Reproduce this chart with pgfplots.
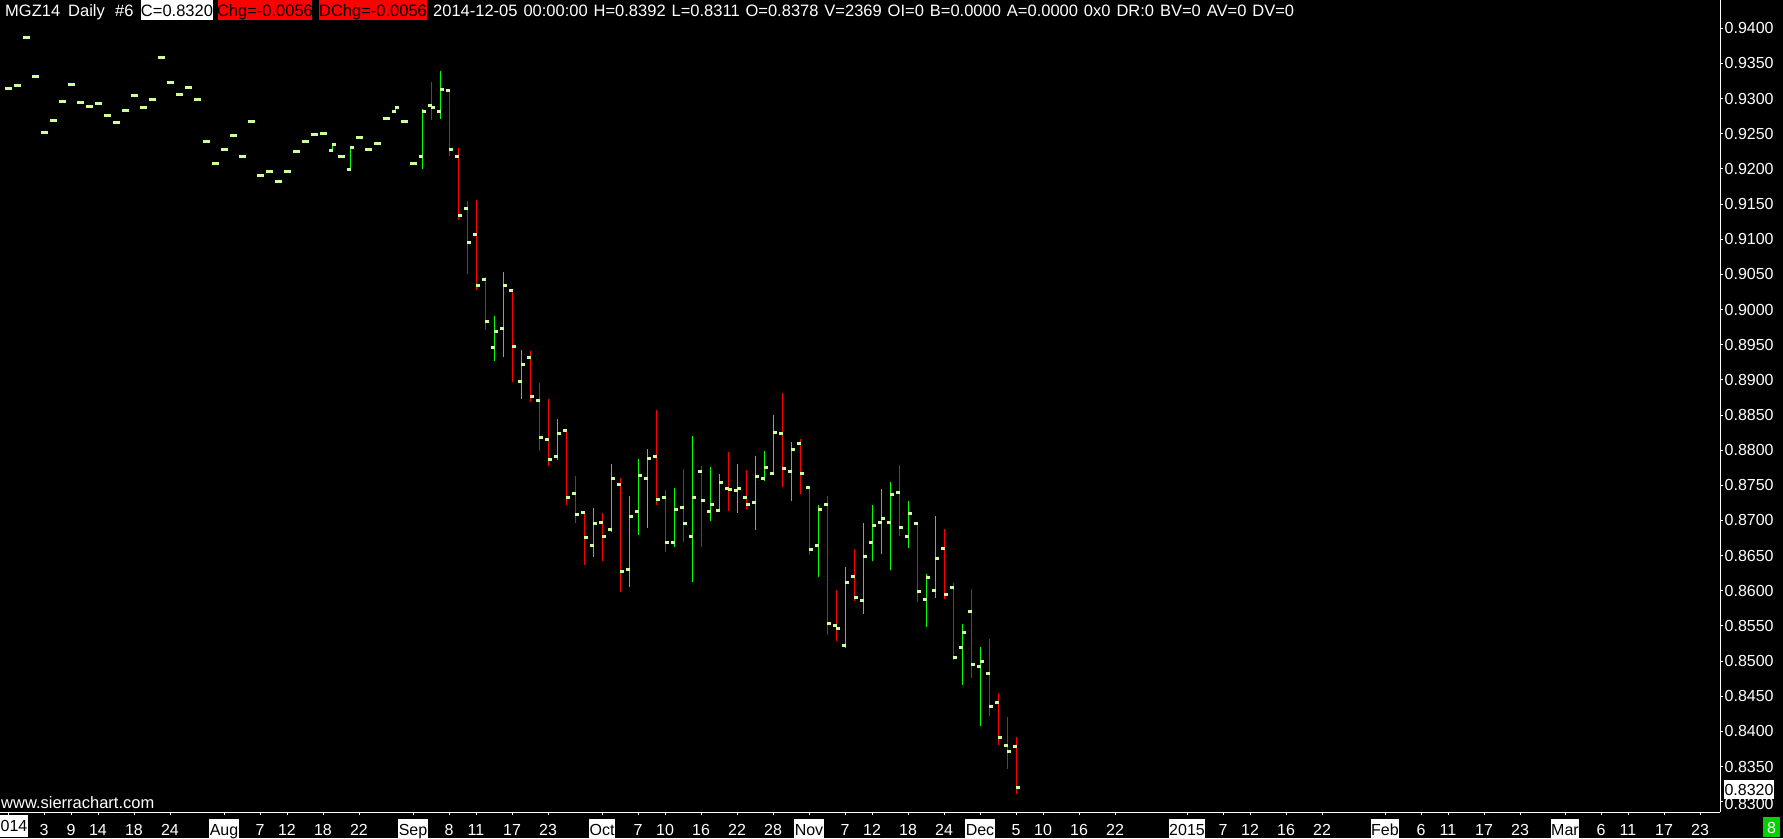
\documentclass[border=0pt]{standalone}
\usepackage{fontspec}
\setmainfont{Liberation Sans}
\usepackage{pgfplots}
\usepackage{pgfplotstable}
\pgfplotsset{compat=1.18}
\definecolor{upg}{RGB}{0,255,0}
\definecolor{dnr}{RGB}{255,0,0}
\definecolor{tickc}{RGB}{204,255,153}
\definecolor{boxg}{RGB}{0,210,0}
\definecolor{hdrred}{RGB}{255,0,0}

\pgfdeclareplotmark{otick}{\pgfpathrectangle{\pgfpoint{-3.5pt}{-1.5pt}}{\pgfpoint{4pt}{3pt}}\pgfusepathqfill}
\pgfdeclareplotmark{ctick}{\pgfpathrectangle{\pgfpoint{-0.5pt}{-1.5pt}}{\pgfpoint{4pt}{3pt}}\pgfusepathqfill}

\newcommand{\mbx}[1]{{\setlength{\fboxsep}{0.5pt}\colorbox{white}{\rule[-5.5pt]{0pt}{21pt}\textcolor{black}{#1}}}}

\pgfplotstableread{
k O H L C
0 0.9315 0.9315 0.9315 0.9315
1 0.9319 0.9319 0.9319 0.9319
2 0.9387 0.9387 0.9387 0.9387
3 0.9332 0.9332 0.9332 0.9332
4 0.9252 0.9252 0.9252 0.9252
5 0.9269 0.9269 0.9269 0.9269
6 0.9296 0.9296 0.9296 0.9296
7 0.9320 0.9320 0.9320 0.9320
8 0.9295 0.9295 0.9295 0.9295
9 0.9289 0.9289 0.9289 0.9289
10 0.9293 0.9293 0.9293 0.9293
11 0.9276 0.9276 0.9276 0.9276
12 0.9266 0.9266 0.9266 0.9266
13 0.9283 0.9283 0.9283 0.9283
14 0.9305 0.9305 0.9305 0.9305
15 0.9288 0.9288 0.9288 0.9288
16 0.9299 0.9299 0.9299 0.9299
17 0.9359 0.9359 0.9359 0.9359
18 0.9323 0.9323 0.9323 0.9323
19 0.9306 0.9306 0.9306 0.9306
20 0.9316 0.9316 0.9316 0.9316
21 0.9299 0.9299 0.9299 0.9299
22 0.9239 0.9239 0.9239 0.9239
23 0.9208 0.9208 0.9208 0.9208
24 0.9228 0.9228 0.9228 0.9228
25 0.9248 0.9248 0.9248 0.9248
26 0.9217 0.9217 0.9217 0.9217
27 0.9268 0.9268 0.9268 0.9268
28 0.9190 0.9190 0.9190 0.9190
29 0.9197 0.9197 0.9197 0.9197
30 0.9182 0.9182 0.9182 0.9182
31 0.9197 0.9197 0.9197 0.9197
32 0.9225 0.9225 0.9225 0.9225
33 0.9239 0.9239 0.9239 0.9239
34 0.9249 0.9249 0.9249 0.9249
35 0.9251 0.9251 0.9251 0.9251
36 0.9226 0.9236 0.9226 0.9235
37 0.9217 0.9217 0.9217 0.9217
38 0.9199 0.9232 0.9199 0.9231
39 0.9245 0.9245 0.9245 0.9245
40 0.9228 0.9228 0.9228 0.9228
41 0.9236 0.9236 0.9236 0.9236
42 0.9271 0.9271 0.9271 0.9271
43 0.9281 0.9289 0.9281 0.9288
44 0.9268 0.9268 0.9268 0.9268
45 0.9208 0.9208 0.9208 0.9208
46 0.9217 0.9285 0.9200 0.9281
47 0.9290 0.9324 0.9269 0.9288
48 0.9282 0.9339 0.9271 0.9313
49 0.9312 0.9312 0.9219 0.9228
50 0.9217 0.9230 0.9128 0.9134
51 0.9144 0.9154 0.9051 0.9096
52 0.9107 0.9156 0.9028 0.9034
53 0.9043 0.9046 0.8971 0.8983
54 0.8946 0.8991 0.8927 0.8969
55 0.8973 0.9053 0.8933 0.9034
56 0.9027 0.9027 0.8897 0.8948
57 0.8898 0.8942 0.8873 0.8922
58 0.8932 0.8941 0.8868 0.8877
59 0.8870 0.8895 0.8799 0.8818
60 0.8815 0.8873 0.8778 0.8787
61 0.8791 0.8844 0.8786 0.8823
62 0.8828 0.8830 0.8722 0.8733
63 0.8739 0.8763 0.8697 0.8709
64 0.8712 0.8713 0.8637 0.8676
65 0.8664 0.8718 0.8648 0.8695
66 0.8697 0.8710 0.8642 0.8677
67 0.8687 0.8780 0.8684 0.8759
68 0.8751 0.8760 0.8598 0.8627
69 0.8630 0.8735 0.8606 0.8705
70 0.8713 0.8787 0.8679 0.8764
71 0.8760 0.8802 0.8690 0.8788
72 0.8791 0.8857 0.8722 0.8730
73 0.8733 0.8743 0.8655 0.8668
74 0.8668 0.8746 0.8662 0.8716
75 0.8719 0.8773 0.8670 0.8695
76 0.8677 0.8820 0.8613 0.8732
77 0.8769 0.8777 0.8662 0.8729
78 0.8713 0.8776 0.8699 0.8723
79 0.8714 0.8766 0.8713 0.8754
80 0.8746 0.8797 0.8714 0.8744
81 0.8743 0.8780 0.8711 0.8746
82 0.8732 0.8772 0.8717 0.8723
83 0.8726 0.8792 0.8687 0.8763
84 0.8760 0.8799 0.8756 0.8776
85 0.8767 0.8850 0.8764 0.8825
86 0.8824 0.8881 0.8747 0.8774
87 0.8769 0.8812 0.8727 0.8801
88 0.8810 0.8816 0.8738 0.8767
89 0.8747 0.8748 0.8651 0.8659
90 0.8665 0.8722 0.8620 0.8716
91 0.8723 0.8735 0.8537 0.8554
92 0.8551 0.8601 0.8529 0.8547
93 0.8522 0.8634 0.8518 0.8612
94 0.8621 0.8659 0.8585 0.8591
95 0.8586 0.8696 0.8567 0.8649
96 0.8668 0.8722 0.8642 0.8693
97 0.8697 0.8745 0.8653 0.8703
98 0.8697 0.8755 0.8630 0.8737
99 0.8740 0.8779 0.8678 0.8690
100 0.8677 0.8728 0.8661 0.8710
101 0.8696 0.8697 0.8584 0.8599
102 0.8588 0.8624 0.8549 0.8619
103 0.8601 0.8706 0.8590 0.8646
104 0.8660 0.8688 0.8589 0.8595
105 0.8605 0.8611 0.8501 0.8505
106 0.8520 0.8553 0.8466 0.8540
107 0.8571 0.8603 0.8476 0.8495
108 0.8493 0.8520 0.8407 0.8500
109 0.8483 0.8531 0.8422 0.8436
110 0.8441 0.8455 0.8380 0.8392
111 0.8380 0.8420 0.8347 0.8372
112 0.8378 0.8392 0.8311 0.8320
}\bars

\begin{document}
\begin{tikzpicture}[x=1pt,y=1pt]
\fill[black] (0,0) rectangle (1783,838);
\begin{axis}[
  at={(0pt,26pt)}, anchor=south west, scale only axis,
  width=1720pt, height=812pt,
  xmin=-0.8889, xmax=190.222, ymin=0.828537, ymax=0.944025,
  axis x line*=bottom, axis y line*=right,
  axis line style={white, line width=1pt, -},
  tick align=outside, major tick length=3pt,
  tick style={white, line width=1pt},
  scaled y ticks=false,
  ytick={0.835,0.840,0.845,0.850,0.855,0.860,0.865,0.870,0.875,0.880,0.885,0.890,0.895,0.900,0.905,0.910,0.915,0.920,0.925,0.930,0.935,0.940},
  extra y ticks={0.830},
  extra y tick style={yticklabel style={yshift=-2pt}},
  yticklabel style={/pgf/number format/fixed, /pgf/number format/fixed zerofill, /pgf/number format/precision=4, /pgf/number format/assume math mode=true, anchor=west, inner sep=0pt, xshift=1.5pt, text=white, font=\fontsize{16}{16}\selectfont},
  xtick={0,4,7,10,14,18,24,28,31,35,39,45,49,52,56,60,66,70,73,77,81,85,89,93,96,100,104,108,112,115,119,123,131,135,138,142,146,153,157,160,164,168,173,177,180,184,188},
  xticklabels={{},3,9,14,18,24,\mbx{Aug},7,12,18,22,\mbx{Sep},8,11,17,23,\mbx{Oct},7,10,16,22,28,\mbx{Nov},7,12,18,24,\mbx{Dec},5,10,16,22,\mbx{2015},7,12,16,22,\mbx{Feb},6,11,17,23,\mbx{Mar},6,11,17,23},
  xticklabel style={anchor=center, yshift=-15pt, text height=16pt, text depth=6pt, inner sep=0pt, text=white, font=\fontsize{16}{16}\selectfont},
]
\addplot[forget plot, draw=none, mark=none, error bars/.cd, y dir=plus, y explicit, error mark=none, error bar style={draw=upg, line width=1pt, solid}]
  table[x=k, y=L, y error expr={(\thisrow{H}-\thisrow{L})*(\thisrow{C}>=\thisrow{O})}] {\bars};
\addplot[forget plot, draw=none, mark=none, error bars/.cd, y dir=plus, y explicit, error mark=none, error bar style={draw=dnr, line width=1pt, solid}]
  table[x=k, y=L, y error expr={(\thisrow{H}-\thisrow{L})*(\thisrow{C}<\thisrow{O})}] {\bars};
\addplot[forget plot, only marks, mark=otick, color=tickc, mark options={fill=tickc, draw=none}] table[x=k, y=O] {\bars};
\addplot[forget plot, only marks, mark=ctick, color=tickc, mark options={fill=tickc, draw=none}] table[x=k, y=C] {\bars};
\end{axis}
% header
\begin{scope}[font=\fontsize{16.5}{16.5}\selectfont]
\node[anchor=base west, inner sep=0pt, text=white] at (5,821) {MGZ14};
\node[anchor=base west, inner sep=0pt, text=white] at (68,821) {Daily};
\node[anchor=base west, inner sep=0pt, text=white] at (115,821) {\#6};
\fill[white] (141,838) rectangle (213,818);
\node[anchor=base, inner sep=0pt, text=black] at (177,821) {C=0.8320};
\fill[hdrred] (218,838) rectangle (312,818);
\node[anchor=base, inner sep=0pt, text=black] at (265,821) {Chg=-0.0056};
\fill[hdrred] (319,838) rectangle (427,818);
\node[anchor=base, inner sep=0pt, text=black] at (373,821) {DChg=-0.0056};
\node[anchor=base west, inner sep=0pt, text=white] at (433,821) {\makebox[861pt][s]{2014-12-05 00:00:00 H=0.8392 L=0.8311 O=0.8378 V=2369 OI=0 B=0.0000 A=0.0000 0x0 DR:0 BV=0 AV=0 DV=0}};
\node[anchor=base west, inner sep=0pt, text=white] at (1,30) {www.sierrachart.com};
\end{scope}
\node[anchor=west, inner sep=0pt] at (0,12) {\fontsize{16}{16}\selectfont\mbx{014}};
\fill[white] (1724,58) rectangle (1774,38.5);
\node[anchor=base, inner sep=0pt, text=black, font=\fontsize{16}{16}\selectfont] at (1749,42.5) {0.8320};
\fill[boxg] (1763,21) rectangle (1780,1);
\node[anchor=base, inner sep=0pt, text=white, font=\fontsize{16}{16}\selectfont] at (1771.5,5) {8};
\pgfresetboundingbox
\path (0,0) rectangle (1783,838);
\end{tikzpicture}
\end{document}
